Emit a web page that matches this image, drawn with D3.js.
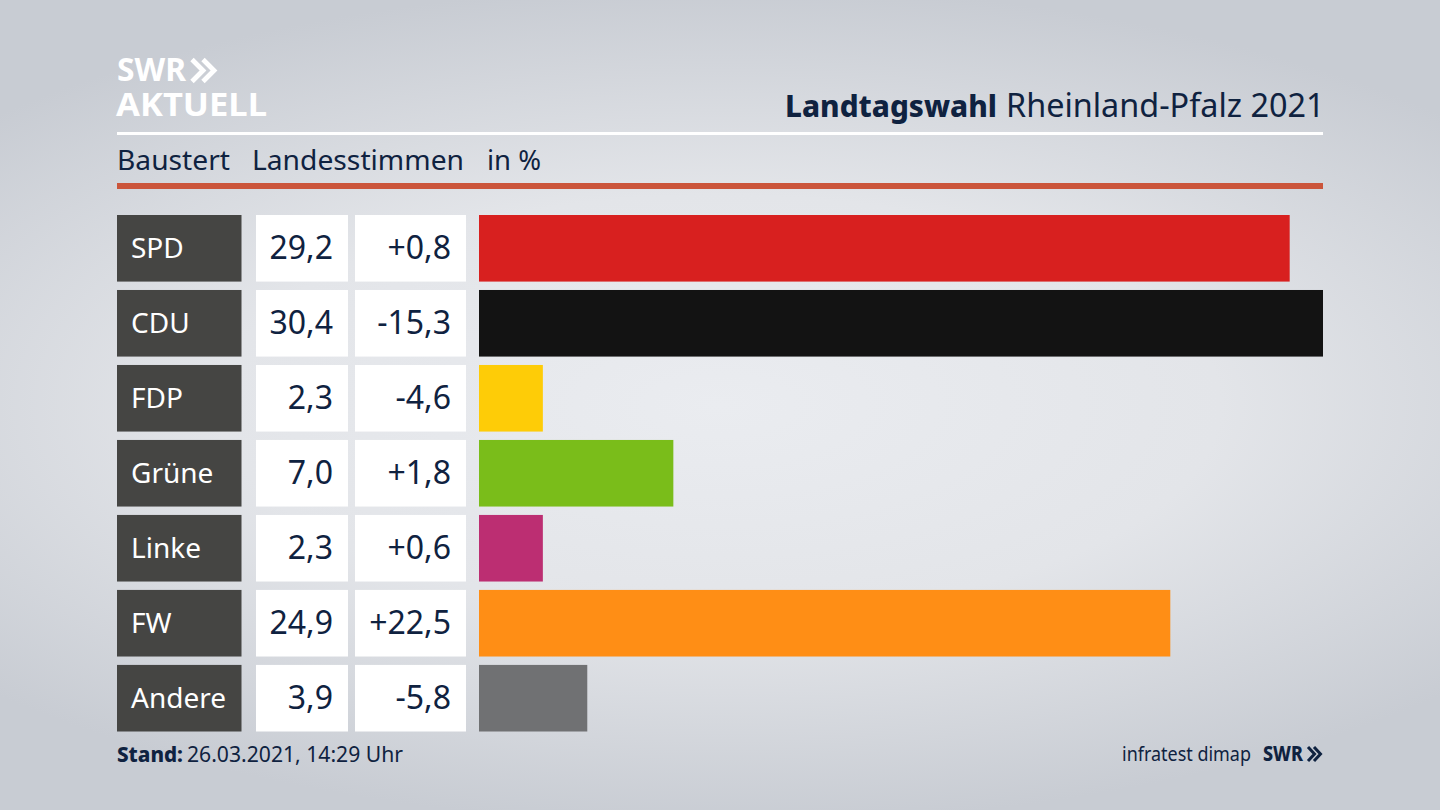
<!DOCTYPE html>
<html><head><meta charset="utf-8">
<script src="https://cdn.jsdelivr.net/npm/d3@7"></script>
<style>html,body{margin:0;padding:0;background:#d5d8de;overflow:hidden}svg{display:block}text{font-family:"Noto Sans",sans-serif}</style>
</head><body><svg id="c" width="1440" height="810"></svg>
<script>
const parties = ["SPD","CDU","FDP","Grüne","Linke","FW","Andere"];
const shares = [29.2,30.4,2.3,7.0,2.3,24.9,3.9];
const changes = [0.8,-15.3,-4.6,1.8,0.6,22.5,-5.8];
const colors = ["#d8201f","#131313","#fecc07","#7abd1a","#bc2e72","#ff8e15","#707173"];
const headers = ["Baustert","Landesstimmen","in %"];

const navy="#0f2240";
const svg=d3.select("#c");
const defs=svg.append("defs");
const g=defs.append("radialGradient").attr("id","bg").attr("gradientUnits","userSpaceOnUse")
  .attr("cx",720).attr("cy",405).attr("r",1000).attr("gradientTransform","translate(0 235) scale(1 .42)");
[[0,"#eaecf0"],[.5,"#e3e5e9"],[1,"#c8ccd3"]].forEach(s=>g.append("stop").attr("offset",s[0]).attr("stop-color",s[1]));
svg.append("rect").attr("width",1440).attr("height",810).attr("fill","url(#bg)");

const fmt=v=>v.toFixed(1).replace(".",",");
const fmtD=v=>(v>0?"+":"-")+Math.abs(v).toFixed(1).replace(".",",");

const y=d3.scaleBand().domain(parties).range([215,731.5]).paddingInner(0.112).paddingOuter(0);
const x=d3.scaleLinear().domain([0,30.4]).range([479,1323]);

// logo
svg.append("text").attr("x",117).attr("y",81).attr("fill","#fff").attr("font-size",33).attr("font-weight",700).attr("textLength",69).attr("lengthAdjust","spacingAndGlyphs").text("SWR");
const chev=(p,x0,yc,h,w,off,t,col)=>{[0,1].forEach(i=>{
  const a=x0+i*off;
  p.append("path").attr("fill","none").attr("stroke",col).attr("stroke-width",t)
   .attr("d",`M${a},${yc-h} L${a+w},${yc} L${a},${yc+h}`);});};
chev(svg,192,70.5,11,11,11,4.8,"#fff");
svg.append("text").attr("x",116).attr("y",116).attr("fill","#fff").attr("font-size",33).attr("font-weight",700).attr("textLength",151).attr("lengthAdjust","spacingAndGlyphs").text("AKTUELL");

// title
svg.append("text").attr("x",785).attr("y",117).attr("fill",navy).attr("font-size",31).attr("font-weight",800).attr("textLength",212).attr("lengthAdjust","spacingAndGlyphs").text("Landtagswahl");
svg.append("text").attr("x",1006).attr("y",117).attr("fill",navy).attr("font-size",32).attr("textLength",318.5).attr("lengthAdjust","spacingAndGlyphs").text("Rheinland-Pfalz 2021");

// rules
svg.append("rect").attr("x",117).attr("y",132).attr("width",1206).attr("height",3).attr("fill","#fff");
svg.append("rect").attr("x",117).attr("y",183).attr("width",1206).attr("height",6).attr("fill","#cb553b");

// header
const hx=[117,252,487], hw=[113,212,54];
headers.forEach((h,i)=>svg.append("text").attr("x",hx[i]).attr("y",170).attr("fill",navy).attr("font-size",27).attr("textLength",hw[i]).attr("lengthAdjust","spacingAndGlyphs").text(h));

// rows
const rows=svg.selectAll("g.row").data(parties).join("g").attr("class","row");
rows.append("rect").attr("x",117).attr("y",d=>y(d)).attr("width",124.5).attr("height",y.bandwidth()).attr("fill","#454543");
rows.append("rect").attr("x",256).attr("y",d=>y(d)).attr("width",92).attr("height",y.bandwidth()).attr("fill","#fff");
rows.append("rect").attr("x",355).attr("y",d=>y(d)).attr("width",111).attr("height",y.bandwidth()).attr("fill","#fff");
rows.append("rect").attr("x",x(0)).attr("y",d=>y(d)).attr("width",(d,i)=>x(shares[i])-x(0)).attr("height",y.bandwidth()).attr("fill",(d,i)=>colors[i]);
rows.append("text").attr("x",131).attr("y",d=>y(d)+y.bandwidth()/2+10).attr("fill","#fff").attr("font-size",28).text(d=>d);
rows.append("text").attr("x",333).attr("y",d=>y(d)+y.bandwidth()/2+11).attr("text-anchor","end").attr("fill",navy).attr("font-size",32).text((d,i)=>fmt(shares[i]));
rows.append("text").attr("x",451).attr("y",d=>y(d)+y.bandwidth()/2+11).attr("text-anchor","end").attr("fill",navy).attr("font-size",32).text((d,i)=>fmtD(changes[i]));

// footer
svg.append("text").attr("x",117).attr("y",762).attr("fill",navy).attr("font-size",22).attr("font-weight",800).attr("textLength",66).attr("lengthAdjust","spacingAndGlyphs").text("Stand:");
svg.append("text").attr("x",187).attr("y",762).attr("fill",navy).attr("font-size",22).attr("textLength",216).attr("lengthAdjust","spacingAndGlyphs").text("26.03.2021, 14:29 Uhr");
svg.append("text").attr("x",1122).attr("y",761).attr("fill",navy).attr("font-size",20).attr("textLength",129).attr("lengthAdjust","spacingAndGlyphs").text("infratest dimap");
svg.append("text").attr("x",1263).attr("y",761).attr("fill",navy).attr("font-size",22).attr("font-weight",800).attr("textLength",40).attr("lengthAdjust","spacingAndGlyphs").text("SWR");
chev(svg,1308,754,7,6.5,6,3,navy);
</script></body></html>
